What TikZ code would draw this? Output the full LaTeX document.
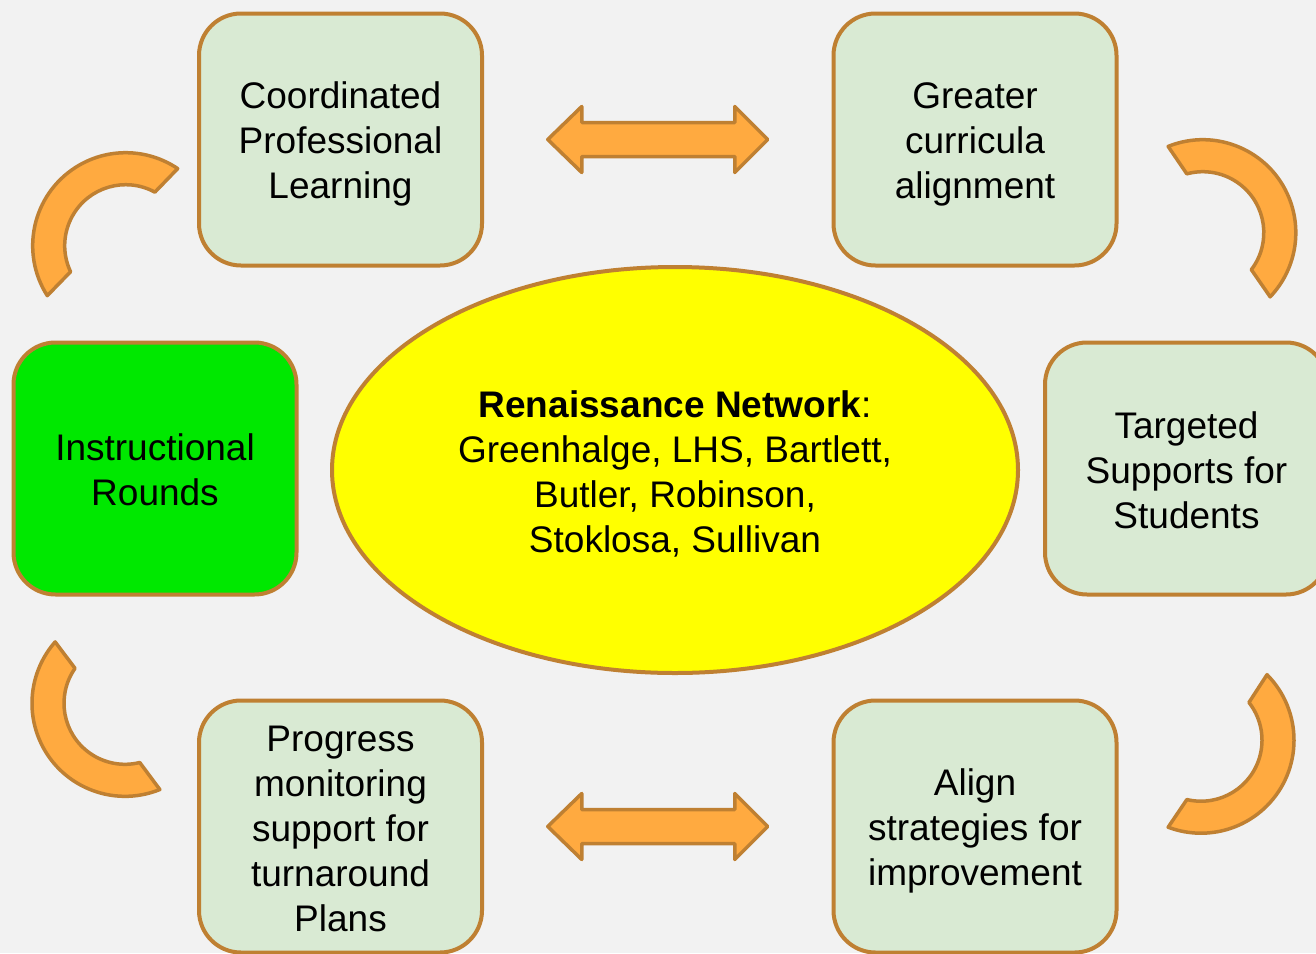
\documentclass[tikz,border=0pt]{standalone}
\usepackage{fontspec}
\setmainfont{Liberation Sans}
\usetikzlibrary{shapes.geometric,calc}
\definecolor{bg}{RGB}{242,242,242}
\definecolor{boxfill}{RGB}{217,234,211}
\definecolor{brd}{RGB}{191,128,50}
\definecolor{arrfill}{RGB}{255,170,64}
\definecolor{irgreen}{RGB}{0,232,0}
\definecolor{ylw}{RGB}{255,255,0}
\newcommand{\tstr}{\rule{0pt}{36pt}}
\newcommand{\bstr}{\rule[-7pt]{0pt}{7pt}}
\begin{document}
\begin{tikzpicture}[x=1pt,y=-1pt,
  box/.style={draw=brd, line width=4pt, fill=boxfill, rounded corners=42pt,
    minimum width=283pt, minimum height=252pt, align=center, inner sep=0pt,
    font=\fontsize{37}{45}\selectfont},
  blk/.style={draw=brd, line width=3.5pt, fill=arrfill, line join=round}]
\fill[bg] (0,0) rectangle (1316,953);
\clip (0,0) rectangle (1316,953);
% boxes
\node[box] (cpl) at (340.5,139.5) {\tstr Coordinated\\Professional\\Learning\bstr};
\node[box] (gca) at (975,139.5) {\tstr Greater\\curricula\\alignment\bstr};
\node[box, fill=irgreen] (ir) at (155,468.5) {\tstr Instructional\\Rounds\bstr};
\node[box] (tss) at (1186.5,468.5) {\tstr Targeted\\Supports for\\Students\bstr};
\node[box] (pms) at (340.5,826.5) {\tstr Progress\\monitoring\\support for\\turnaround\\Plans\bstr};
\node[box] (asi) at (975,826.5) {\tstr Align\\strategies for\\improvement\bstr};
% ellipse
\node[ellipse, draw=brd, line width=4pt, fill=ylw, minimum width=686pt, minimum height=406pt,
  inner sep=0pt, align=center, font=\fontsize{37}{45}\selectfont] (net) at (675,470)
  {\tstr\textbf{Renaissance Network}:\\Greenhalge, LHS, Bartlett,\\Butler, Robinson,\\Stoklosa, Sullivan\bstr};
% double arrows
\path (cpl.east) -- (gca.west) coordinate[pos=0.5] (m1);
\path (pms.east) -- (asi.west) coordinate[pos=0.5] (m2);
\foreach \m in {m1,m2}{
  \begin{scope}[shift={(\m)}]
    \draw[blk] (-110,0) -- (-76,-33) -- (-76,-17) -- (77,-17) -- (77,-33) -- (110,0)
      -- (77,33) -- (77,17) -- (-76,17) -- (-76,33) -- cycle;
  \end{scope}
}
% curved bands
\coordinate (c1) at (125.7,245.7);
\draw[blk] ($(c1)+(147.5:93)$) arc[start angle=147.5,end angle=304,radius=93]
  -- ($(c1)+(298.6:61)$) arc[start angle=298.6,end angle=154.7,radius=61] -- cycle;
\coordinate (c2) at (1202.8,232.7);
\draw[blk] ($(c2)+(248.1:93)$) arc[start angle=248.1,end angle=403.6,radius=93]
  -- ($(c2)+(397.3:61)$) arc[start angle=397.3,end angle=254.8,radius=61] -- cycle;
\coordinate (c3) at (125,703.3);
\draw[blk] ($(c3)+(68:93)$) arc[start angle=68,end angle=221.3,radius=93]
  -- ($(c3)+(215:61)$) arc[start angle=215,end angle=76,radius=61] -- cycle;
\coordinate (c4) at (1201,740.2);
\draw[blk] ($(c4)+(-44.8:93)$) arc[start angle=-44.8,end angle=110.7,radius=93]
  -- ($(c4)+(103.4:61)$) arc[start angle=103.4,end angle=-38.2,radius=61] -- cycle;
\end{tikzpicture}
\end{document}
